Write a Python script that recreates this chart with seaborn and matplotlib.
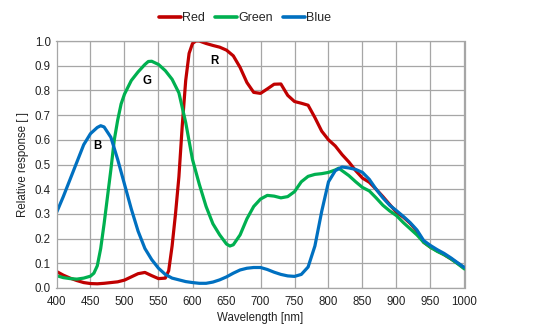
import numpy as np
import pandas as pd
import matplotlib
matplotlib.use("Agg")
import matplotlib.pyplot as plt
import seaborn as sns

red_wl = [400,410,420,430,440,450,460,470,480,490,500,510,520,530,540,550,560,565,570,575,580,585,590,595,600,605,610,620,630,640,650,660,670,680,690,700,710,720,730,740,750,760,770,780,790,800,810,820,830,840,850,860,870,880,890,900,910,920,930,940,950,960,970,980,990,1000]
red_val = [0.067,0.052,0.040,0.030,0.022,0.018,0.017,0.019,0.022,0.025,0.032,0.045,0.058,0.063,0.050,0.038,0.040,0.07,0.17,0.30,0.45,0.66,0.84,0.95,0.99,1.0,1.0,0.99,0.982,0.975,0.963,0.94,0.893,0.832,0.792,0.788,0.806,0.825,0.826,0.78,0.755,0.748,0.740,0.69,0.635,0.600,0.575,0.54,0.51,0.475,0.445,0.428,0.40,0.37,0.338,0.306,0.287,0.262,0.23,0.185,0.165,0.150,0.135,0.118,0.100,0.080]

green_wl = [400,410,420,430,440,450,455,460,465,470,475,480,485,490,495,500,510,520,530,535,540,550,560,570,580,590,600,610,620,630,640,650,655,660,670,680,690,700,710,720,730,740,750,760,770,780,790,800,810,815,820,830,840,850,860,870,880,890,900,910,920,930,940,950,960,970,980,990,1000]
green_val = [0.050,0.042,0.038,0.036,0.040,0.048,0.06,0.09,0.16,0.26,0.37,0.48,0.60,0.68,0.745,0.785,0.84,0.875,0.905,0.917,0.918,0.905,0.88,0.845,0.79,0.67,0.52,0.42,0.33,0.26,0.215,0.178,0.170,0.175,0.215,0.28,0.33,0.36,0.375,0.372,0.365,0.37,0.39,0.43,0.452,0.46,0.463,0.468,0.478,0.485,0.475,0.455,0.430,0.407,0.393,0.365,0.335,0.312,0.293,0.265,0.24,0.215,0.185,0.165,0.148,0.135,0.118,0.098,0.077]

blue_wl = [400,410,420,430,440,450,460,465,470,480,490,500,510,520,530,540,550,560,570,580,590,600,610,620,630,640,650,660,670,680,690,700,710,720,730,740,750,760,770,780,790,800,810,820,830,840,850,860,870,880,890,900,910,920,930,940,950,960,970,980,990,1000]
blue_val = [0.305,0.37,0.44,0.51,0.58,0.625,0.65,0.657,0.652,0.61,0.52,0.42,0.32,0.23,0.16,0.115,0.08,0.055,0.040,0.033,0.026,0.022,0.019,0.019,0.024,0.033,0.045,0.06,0.073,0.08,0.083,0.083,0.075,0.064,0.055,0.049,0.047,0.055,0.085,0.17,0.31,0.43,0.475,0.49,0.486,0.480,0.468,0.44,0.40,0.365,0.335,0.313,0.29,0.265,0.235,0.192,0.172,0.155,0.14,0.122,0.102,0.083]

series_names = ["Red", "Green", "Blue"]
series_colors = ["#C00000", "#00B050", "#0070C0"]
x_ticks = list(range(400, 1001, 50))
y_ticks = [round(0.1 * i, 1) for i in range(11)]
annotations = [("B", 460, 0.575), ("G", 533, 0.84), ("R", 632, 0.92)]

frames = []
for name, wl, val in [("Red", red_wl, red_val), ("Green", green_wl, green_val), ("Blue", blue_wl, blue_val)]:
    frames.append(pd.DataFrame({"Wavelength": wl, "Response": val, "Channel": name}))
df = pd.concat(frames, ignore_index=True)

sns.set_style("white")
plt.rcParams["font.family"] = ["Liberation Sans", "DejaVu Sans"]
plt.rcParams["lines.solid_joinstyle"] = "round"
plt.rcParams["lines.solid_capstyle"] = "round"

fig = plt.figure(figsize=(5.54, 3.31), dpi=100)
ax = fig.add_axes([56.5/554, 1-288/331, (464.5-56.5)/554, (288-41)/331])

sns.lineplot(data=df, x="Wavelength", y="Response", hue="Channel",
             hue_order=series_names, palette=series_colors, linewidth=2.3,
             ax=ax, legend=False, sort=False)

fs = 8.3
ax.set_xlim(400, 1000)
ax.set_ylim(0, 1.0)
ax.set_xticks(x_ticks)
ax.set_yticks(y_ticks)
ax.set_xticklabels([str(t) for t in x_ticks], fontsize=fs, color="#222222")
ax.set_yticklabels([f"{t:.1f}" for t in y_ticks], fontsize=fs, color="#222222")
ax.tick_params(axis="x", length=0, pad=6)
ax.tick_params(axis="y", length=0, pad=4)
ax.grid(True, color="#A6A6A6", linewidth=0.9)
for s in ax.spines.values():
    s.set_color("#A6A6A6")
    s.set_linewidth(0.9)
ax.set_axisbelow(True)
ax.set_xlabel("Wavelength [nm]", fontsize=fs, color="#222222", labelpad=3)
ax.set_ylabel("Relative response [ ]", fontsize=fs, color="#222222", labelpad=4)

for txt, x, y in annotations:
    ax.text(x, y, txt, fontsize=fs, fontweight="bold", ha="center", va="center", color="black")

from matplotlib.lines import Line2D
handles = [Line2D([], [], color=c, linewidth=2.6) for c in series_colors]
fig.legend(handles, series_names, loc="center", bbox_to_anchor=(245/554, 1-18/331),
           ncol=3, frameon=False, fontsize=9, handlelength=1.76, handletextpad=0.05,
           columnspacing=0.85)

fig.savefig("out.png", dpi=100)
